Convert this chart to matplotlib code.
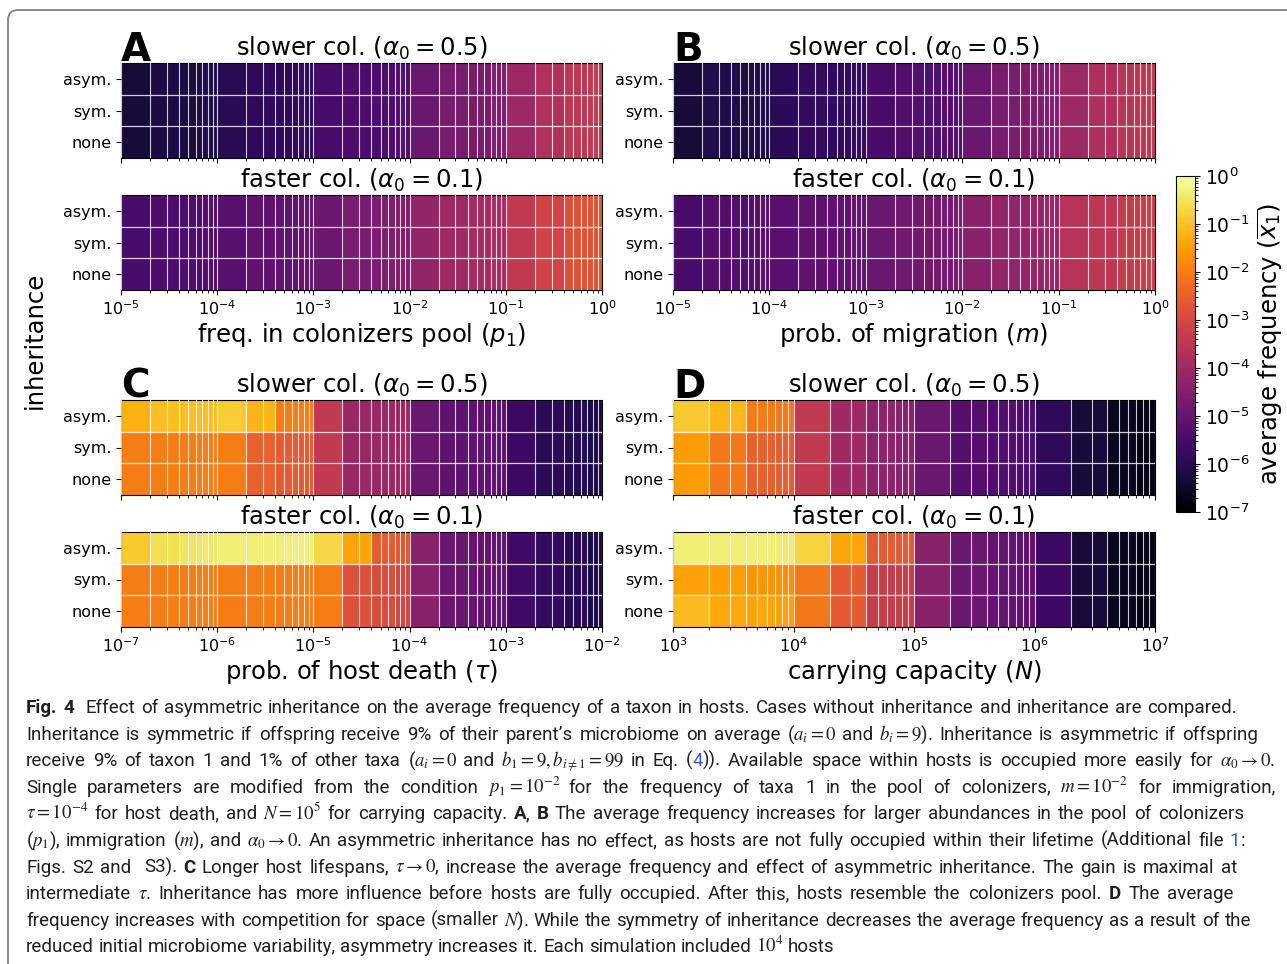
import numpy as np
import matplotlib.pyplot as plt
from matplotlib import font_manager
from matplotlib.colors import LogNorm
from matplotlib.cm import ScalarMappable
from matplotlib.patches import FancyBboxPatch
from matplotlib.transforms import IdentityTransform

# ---- data (log10 of average frequency, one value per cell) ----
rows = ["asym.", "sym.", "none"]

p1_edges = [1e-5, 2e-5, 4e-5, 7e-5, 1e-4, 2e-4, 4e-4, 7e-4, 1e-3, 2e-3, 4e-3, 7e-3,
            1e-2, 2e-2, 4e-2, 7e-2, 1e-1, 2e-1, 4e-1, 7e-1, 1e0]
m_edges = [1e-5, 2e-5, 4e-5, 7e-5, 1e-4, 2e-4, 4e-4, 7e-4, 1e-3, 2e-3, 4e-3, 7e-3,
           1e-2, 2e-2, 4e-2, 7e-2, 1e-1, 2e-1, 4e-1, 7e-1, 1e0]
tau_edges = [1e-7, 2e-7, 4e-7, 7e-7, 1e-6, 2e-6, 4e-6, 7e-6, 1e-5, 2e-5, 4e-5, 7e-5,
             1e-4, 2e-4, 4e-4, 7e-4, 1e-3, 2e-3, 4e-3, 7e-3, 1e-2]
N_edges = [1e3, 2e3, 4e3, 7e3, 1e4, 2e4, 4e4, 7e4, 1e5, 2e5, 4e5, 7e5,
           1e6, 2e6, 4e6, 7e6, 1e7]

a_slow = [-6.3, -6.2, -6.2, -6.15, -6.0, -5.9, -5.9, -5.85, -5.5, -5.4, -5.4, -5.35,
          -4.9, -4.7, -4.7, -4.6, -4.05, -3.7, -3.45, -3.4]
a_fast = [-5.5, -5.4, -5.4, -5.35, -5.25, -5.1, -5.1, -5.05, -4.9, -4.65, -4.6, -4.55,
          -4.25, -4.0, -3.95, -3.9, -3.4, -3.1, -2.8, -2.75]
b_slow = [-6.3, -6.15, -6.15, -6.1, -5.95, -5.85, -5.85, -5.8, -5.45, -5.35, -5.35, -5.3,
          -4.9, -4.65, -4.6, -4.55, -4.05, -3.75, -3.55, -3.45]
b_fast = [-5.45, -5.3, -5.3, -5.25, -5.2, -5.1, -5.1, -5.05, -4.9, -4.8, -4.75, -4.7,
          -4.4, -4.25, -4.2, -4.15, -3.6, -3.45, -3.35, -3.25]

c_slow_asym = [-1.25, -1.05, -1.05, -1.05, -0.85, -1.2, -2.0, -2.0, -3.4, -4.1, -4.1, -4.1,
               -4.9, -5.1, -5.1, -5.15, -5.7, -5.95, -6.05, -6.2]
c_slow_sym = [-2.0, -2.0, -2.0, -2.0, -2.0, -2.5, -2.6, -2.6, -3.4, -4.1, -4.1, -4.1,
              -4.9, -5.1, -5.1, -5.15, -5.7, -5.95, -6.05, -6.2]
c_fast_asym = [-0.9, -0.6, -0.5, -0.45, -0.35, -0.35, -0.35, -0.35, -0.7, -1.4, -2.6, -2.7,
               -4.4, -4.9, -5.0, -5.1, -5.6, -5.8, -6.0, -6.2]
c_fast_sym = [-2.0, -2.0, -2.0, -2.0, -2.0, -2.0, -2.0, -2.0, -2.0, -2.8, -2.9, -3.1,
              -4.4, -4.9, -5.0, -5.1, -5.6, -5.8, -6.0, -6.2]

d_slow_asym = [-0.9, -1.15, -2.05, -2.1, -3.4, -4.0, -4.3, -4.4,
               -4.9, -5.3, -5.35, -5.4, -5.9, -6.3, -6.6, -6.75]
d_slow_sym = [-1.55, -2.1, -2.5, -2.55, -3.4, -4.0, -4.3, -4.4,
              -4.9, -5.3, -5.35, -5.4, -5.9, -6.3, -6.6, -6.75]
d_fast_asym = [-0.35, -0.35, -0.35, -0.4, -0.75, -1.4, -2.6, -2.6,
               -4.4, -4.9, -5.05, -5.1, -5.7, -6.3, -6.6, -6.75]
d_fast_sym = [-1.45, -1.5, -1.65, -1.7, -2.1, -2.6, -3.3, -3.3,
              -4.4, -4.9, -5.05, -5.1, -5.7, -6.3, -6.6, -6.75]
d_fast_none = [-1.1, -1.35, -1.4, -1.45, -2.1, -2.6, -3.3, -3.3,
               -4.4, -4.9, -5.05, -5.1, -5.7, -6.3, -6.6, -6.75]

panels = [
    ("A", p1_edges, [a_slow, a_slow, a_slow], [a_fast, a_fast, a_fast],
     "freq. in colonizers pool ($p_1$)"),
    ("B", m_edges, [b_slow, b_slow, b_slow], [b_fast, b_fast, b_fast],
     "prob. of migration ($m$)"),
    ("C", tau_edges, [c_slow_asym, c_slow_sym, c_slow_sym], [c_fast_asym, c_fast_sym, c_fast_sym],
     r"prob. of host death ($\tau$)"),
    ("D", N_edges, [d_slow_asym, d_slow_sym, d_slow_sym], [d_fast_asym, d_fast_sym, d_fast_none],
     "carrying capacity ($N$)"),
]

# ---- figure ----
W, H = 1287, 964
fig = plt.figure(figsize=(W / 100, H / 100), dpi=100)


def px(x0, y0, x1, y1):
    return [x0 / W, 1 - y1 / H, (x1 - x0) / W, (y1 - y0) / H]


norm = LogNorm(1e-7, 1)
cmap = "inferno"

# panel frames in pixels: (left, right, top of slow axes)
boxes = {"A": (121, 602, 63), "B": (673, 1155, 63), "C": (121, 602, 400), "D": (673, 1155, 400)}

for letter, edges, slow, fast, xlabel in panels:
    x0, x1, top = boxes[letter]
    for k, (vals, title) in enumerate([(slow, r"slower col. ($\alpha_0 = 0.5$)"),
                                       (fast, r"faster col. ($\alpha_0 = 0.1$)")]):
        y0 = top + k * 132
        ax = fig.add_axes(px(x0, y0, x1, y0 + 95))
        ax.set_xscale("log")
        z = 10 ** np.array(vals[::-1])
        ax.pcolormesh(edges, [0, 1, 2, 3], z, cmap=cmap, norm=norm)
        ax.set_xlim(edges[0], edges[-1])
        ax.set_ylim(0, 3)
        ax.set_yticks([0.5, 1.5, 2.5], rows[::-1])
        ax.set_yticks([1, 2], minor=True)
        ax.tick_params(axis="y", which="minor", length=0)
        ax.tick_params(labelsize=11.5)
        ax.set_axisbelow(False)
        ax.grid(True, which="both", axis="x", color="white", lw=0.8, alpha=0.8)
        ax.grid(True, which="minor", axis="y", color="white", lw=0.9, alpha=0.8)
        ax.set_title(title, fontsize=17.5, pad=5)
        if k == 0:
            ax.tick_params(labelbottom=False)
            fig.text(x0 / W, 1 - 61 / H - (top - 63) / H, letter, fontsize=28,
                     fontweight="bold", ha="left", va="baseline")
        else:
            ax.set_xlabel(xlabel, fontsize=17.5, labelpad=2)

fig.text(35 / W, 1 - 340 / H, "inheritance", rotation=90, fontsize=17.5,
         ha="center", va="center")

# colorbar
cax = fig.add_axes(px(1176, 176, 1195, 512))
cb = fig.colorbar(ScalarMappable(norm=norm, cmap=cmap), cax=cax)
cb.set_label(r"average frequency ($\overline{x_1}$)", fontsize=17.5, labelpad=5)
cax.tick_params(labelsize=13.5)

# outer frame
frame = FancyBboxPatch((8, -20), 1320, H - 10 + 20, boxstyle="round,pad=0,rounding_size=10",
                       transform=IdentityTransform(), fc="none", ec="#808080", lw=1.3)
fig.patches.append(frame)

# ---- caption ----
def pick(names):
    for n in names:
        try:
            font_manager.findfont(n, fallback_to_default=False)
            return n
        except ValueError:
            pass
    return "DejaVu Sans"


cap_font = pick(["Liberation Sans Narrow", "Roboto", "Open Sans", "DejaVu Sans"])
BLUE = "#3b5bdb"
N_, B_, L_ = "n", "b", "l"
caption = [
    [("Fig. 4", B_), ("  Effect of asymmetric inheritance on the average frequency of a taxon in hosts. "
                      "Cases without inheritance and inheritance are compared.", N_)],
    [("Inheritance is symmetric if offspring receive 9% of their parent\u2019s microbiome on average "
      "($a_i = 0$ and $b_i = 9$). Inheritance is asymmetric if offspring", N_)],
    [(r"receive 9% of taxon 1 and 1% of other taxa ($a_i = 0$ and $b_1 = 9, b_{i\neq1} = 99$ in Eq. (", N_),
     ("4", L_), (r")). Available space within hosts is occupied more easily for $\alpha_0 \rightarrow 0$.", N_)],
    [(r"Single parameters are modified from the condition $p_1 = 10^{-2}$ for the frequency of taxa 1 "
      r"in the pool of colonizers, $m = 10^{-2}$ for immigration,", N_)],
    [(r"$\tau = 10^{-4}$ for host death, and $N = 10^5$ for carrying capacity. ", N_), ("A", B_), (", ", N_),
     ("B", B_), (" The average frequency increases for larger abundances in the pool of colonizers", N_)],
    [(r"($p_1$), immigration ($m$), and $\alpha_0 \rightarrow 0$. An asymmetric inheritance has no effect, "
      r"as hosts are not fully occupied within their lifetime (Additional file ", N_), ("1", L_), (":", N_)],
    [("Figs. S2 and  S3). ", N_), ("C", B_),
     (r" Longer host lifespans, $\tau \rightarrow 0$, increase the average frequency and effect of "
      r"asymmetric inheritance. The gain is maximal at", N_)],
    [(r"intermediate $\tau$. Inheritance has more influence before hosts are fully occupied. "
      r"After this, hosts resemble the colonizers pool. ", N_), ("D", B_), (" The average", N_)],
    [(r"frequency increases with competition for space (smaller $N$). While the symmetry of inheritance "
      r"decreases the average frequency as a result of the", N_)],
    [(r"reduced initial microbiome variability, asymmetry increases it. Each simulation included $10^4$ hosts", N_)],
]
line_right = [1237, 1258, 1275, 1276, 1244, 1245, 1237, 1233, 1251, None]

renderer = fig.canvas.get_renderer()


def style(kind, fs):
    kw = dict(fontsize=fs, family=cap_font, math_fontfamily="stix", color="#231f20")
    if kind == B_:
        kw["fontweight"] = "bold"
    if kind == L_:
        kw["color"] = BLUE
    return kw


def seg_width(s, kw):
    t1 = fig.text(0, 0, "|" + s + "|", **kw)
    t2 = fig.text(0, 0, "||", **kw)
    w = t1.get_window_extent(renderer).width - t2.get_window_extent(renderer).width
    t1.remove()
    t2.remove()
    return w


def split_words(line):
    # words are lists of (text, kind) pieces; a gap sits between consecutive words
    words = [[]]
    for s, k in line:
        cur, inm = "", False
        for ch in s:
            if ch == "$":
                inm = not inm
            if ch == " " and not inm:
                if cur:
                    words[-1].append((cur, k))
                words.append([])
                cur = ""
            else:
                cur += ch
        if cur:
            words[-1].append((cur, k))
    return words


def natural(words, fs):
    sp = seg_width(" ", style(N_, fs))
    wsum = sum(seg_width(s, style(k, fs)) for w in words for s, k in w)
    return wsum, sp


base = 10.0
split = [split_words(l) for l in caption]
ratios = []
for words, r in zip(split, line_right):
    if r is None:
        continue
    wsum, sp = natural(words, base)
    ratios.append((r - 26) / (wsum + sp * (len(words) - 1)))
fs = base * min(ratios) * 0.99

for i, (words, r) in enumerate(zip(split, line_right)):
    yb = 713 + 26.6 * i
    wsum, sp = natural(words, fs)
    gap = sp if r is None else (r - 26 - wsum) / (len(words) - 1)
    x = 26.0
    for w in words:
        for s, k in w:
            kw = style(k, fs)
            fig.text(x / W, 1 - yb / H, s, ha="left", va="baseline", **kw)
            x += seg_width(s, kw)
        x += gap

fig.savefig("out.png", dpi=100)
